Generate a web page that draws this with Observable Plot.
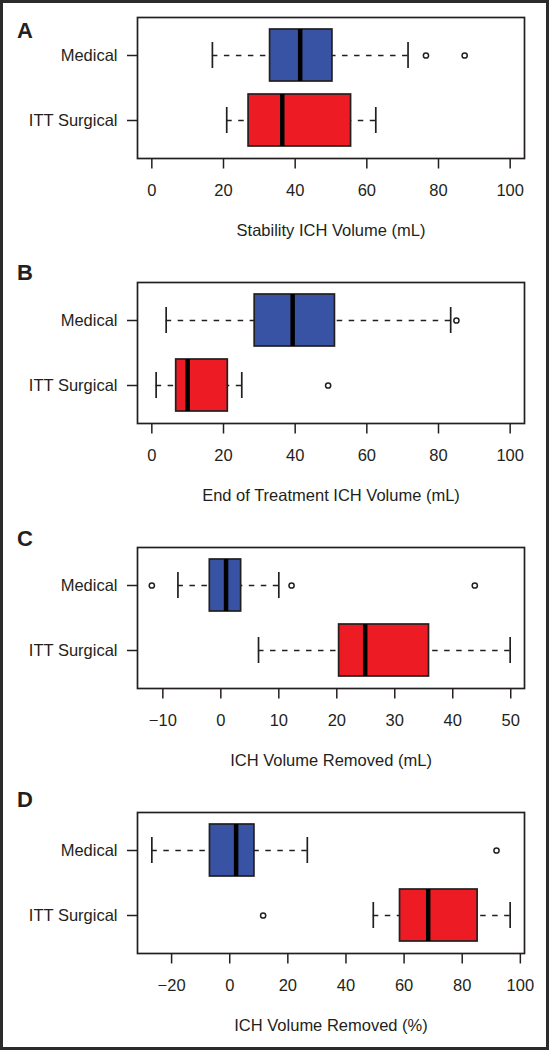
<!DOCTYPE html>
<html><head><meta charset="utf-8">
<script src="https://cdn.jsdelivr.net/npm/d3@7"></script>
<script src="https://cdn.jsdelivr.net/npm/@observablehq/plot@0.6"></script>
<style>
body{margin:0;background:#fff;}
#wrap{position:relative;width:550px;height:1050px;overflow:hidden;font-family:"Liberation Sans",Arial,sans-serif;color:#231f20;background:#fff;}
#border{position:absolute;left:0;top:0;width:549px;height:1050px;border:3px solid #2b2b2b;box-sizing:border-box;pointer-events:none;}
.panel{position:absolute;left:0;}
.letter{position:absolute;left:17px;font-weight:bold;font-size:22px;line-height:22px;}
</style></head><body><div id="wrap"></div>
<script>
const groups = ["Medical", "ITT Surgical"];
const panelLetters = ["A", "B", "C", "D"];
const axisTitles = ["Stability ICH Volume (mL)", "End of Treatment ICH Volume (mL)", "ICH Volume Removed (mL)", "ICH Volume Removed (%)"];
const xTicks = [[0,20,40,60,80,100],[0,20,40,60,80,100],[-10,0,10,20,30,40,50],[-20,0,20,40,60,80,100]];
const xLimits = [[0,100],[0,100],null,null];
// per panel: [Medical, ITT Surgical]
const lowerWhisker = [[16.9,20.9],[4.0,1.2],[-7.4,6.5],[-26.8,49.4]];
const q1 = [[33.0,27.0],[28.7,6.8],[-1.9,20.4],[-6.8,58.6]];
const median = [[41.4,36.4],[39.3,10.0],[0.9,24.9],[2.2,68.3]];
const q3 = [[50.4,55.6],[51.1,21.2],[3.5,35.9],[8.5,85.3]];
const upperWhisker = [[71.5,62.5],[83.4,25.1],[10.0,49.9],[26.7,96.5]];
const outliers = [[[76.5,87.3],[]],[[85.0],[49.2]],[[-11.9,12.2,43.8],[]],[[91.8],[11.5]]];
const groupColors = ["#3953a4", "#ed1c24"];

// layout
const panelTop = [0, 265, 530, 795];
const letterTop = [19.7, 262.1, 528.1, 788.7];
const ink = "#231f20";
const font = "'Liberation Sans', Arial, sans-serif";

const wrap = document.getElementById("wrap");

panelLetters.forEach((letter, i) => {
  const boxes = groups.map((g, j) => ({
    group: g, lw: lowerWhisker[i][j], q1: q1[i][j], med: median[i][j],
    q3: q3[i][j], uw: upperWhisker[i][j], color: groupColors[j]
  }));
  const pts = groups.flatMap((g, j) => outliers[i][j].map(v => ({group: g, value: v})));
  let lo, hi;
  if (xLimits[i]) { [lo, hi] = xLimits[i]; }
  else {
    const all = boxes.flatMap(b => [b.lw, b.uw]).concat(pts.map(p => p.value));
    lo = d3.min(all); hi = d3.max(all);
  }
  const ext = (hi - lo) * 0.04;

  const chart = Plot.plot({
    width: 550, height: 255,
    marginLeft: 137, marginRight: 26, marginTop: 17, marginBottom: 97,
    style: {fontFamily: font, fontSize: "16.5px", color: ink, background: "transparent", overflow: "visible"},
    x: {domain: [lo - ext, hi + ext]},
    y: {type: "band", domain: groups, paddingInner: 0.2, paddingOuter: 0.18},
    color: {type: "identity"},
    marks: [
      Plot.ruleY(boxes, {y: "group", x1: "lw", x2: "q1", stroke: ink, strokeWidth: 1.4, strokeDasharray: "5.5,6.5"}),
      Plot.ruleY(boxes, {y: "group", x1: "uw", x2: "q3", stroke: ink, strokeWidth: 1.4, strokeDasharray: "5.5,6.5"}),
      Plot.tickX(boxes, {x: "lw", y: "group", insetTop: 13, insetBottom: 13, stroke: ink, strokeWidth: 1.7}),
      Plot.tickX(boxes, {x: "uw", y: "group", insetTop: 13, insetBottom: 13, stroke: ink, strokeWidth: 1.7}),
      Plot.barX(boxes, {x1: "q1", x2: "q3", y: "group", fill: "color", stroke: ink, strokeWidth: 1.7}),
      Plot.tickX(boxes, {x: "med", y: "group", stroke: "#000", strokeWidth: 4.5}),
      Plot.dot(pts, {x: "value", y: "group", r: 2.6, stroke: ink, strokeWidth: 1.5, fill: "white"}),
      Plot.frame({stroke: ink, strokeWidth: 1.7}),
      Plot.axisX({ticks: xTicks[i], tickSize: 10.5, tickPadding: 15.5, label: null, strokeWidth: 1.5}),
      Plot.axisY({tickSize: 10, tickPadding: 10, label: null, strokeWidth: 1.5}),
      Plot.text([axisTitles[i]], {text: d => d, frameAnchor: "bottom", dy: 72.5, lineAnchor: "middle", fontSize: 16.5, fill: ink})
    ]
  });
  const div = document.createElement("div");
  div.className = "panel";
  div.style.top = panelTop[i] + "px";
  div.appendChild(chart);
  wrap.appendChild(div);

  const lt = document.createElement("div");
  lt.className = "letter";
  lt.style.top = letterTop[i] + "px";
  lt.textContent = letter;
  wrap.appendChild(lt);
});
const border = document.createElement("div");
border.id = "border";
wrap.appendChild(border);
</script></body></html>
